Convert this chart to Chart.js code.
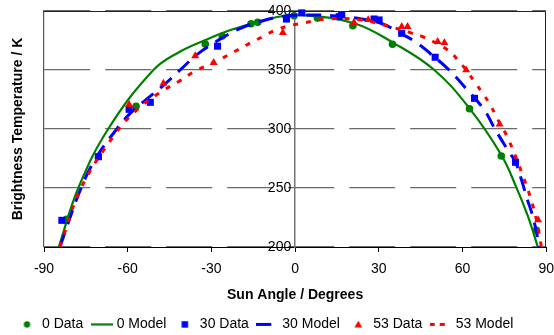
<!DOCTYPE html>
<html>
<head>
<meta charset="utf-8">
<script src="https://cdn.jsdelivr.net/npm/chart.js@4.4.0/dist/chart.umd.min.js"></script>
<style>
html,body{margin:0;padding:0;background:#fff;}
#wrap{width:554px;height:335px;}
</style>
</head>
<body>
<div id="wrap"><canvas id="c" width="554" height="335"></canvas></div>
<script>
// ---- data ----
const xTickValues = [-90, -60, -30, 0, 30, 60, 90];
const yTickValues = [200, 250, 300, 350, 400];

const angle0Data = [-81.9, -57.0, -32.2, -26.1, -15.8, -13.4, -0.4, 8.0, 20.7, 34.9, 62.5, 73.9, 86.5];
const temp0Data  = [223.5, 319.2, 372.0, 378.8, 389.2, 390.4, 396.0, 394.0, 387.5, 371.8, 317.2, 277.1, 214.2];

const angle0Model = [-84.7, -77.7, -67.0, -50.8, -41.5, -32.2, -22.0, -6.4, 2.0, 21.1, 35.5, 49.9, 62.5, 73.9, 79.3, 83.5, 87.0];
const temp0Model  = [200, 250, 300, 350, 365.3, 375.4, 384.7, 394.9, 396.6, 389.6, 372.6, 350, 317.5, 278, 250.5, 225.7, 200];

const angle30Data = [-83.6, -70.5, -59.5, -51.9, -27.8, -3.1, 2.4, 15.8, 16.7, 28.3, 30.1, 38.2, 50.2, 64.3, 79.0];
const temp30Data  = [222.6, 276.5, 316.7, 322.6, 370.2, 393.2, 398.4, 395.2, 396.9, 393.2, 392.4, 381.1, 360.8, 326.0, 271.8];

const angle30Model = [-84.3, -76.7, -71.1, -63.9, -59.2, -53.1, -47.2, -41.2, -35.2, -28.0, -19.6, -11.2, -6.4, 0, 9.2, 16.0, 22.4, 30.7, 37.9, 43.9, 48.3, 55.2, 61.3, 67.9, 71.5, 76.0, 79.0, 81.0, 83.0, 85.3, 87.6];
const temp30Model  = [200, 250, 276.5, 300, 313, 325.5, 337, 350, 363, 374.5, 385.3, 392, 394.7, 396.3, 396.6, 395.5, 393.8, 389.6, 381, 372.6, 364.2, 350, 334.2, 315.8, 300.5, 283, 271.8, 258, 242, 225, 200];

const angle53Data = [-59.5, -47.2, -35.8, -29.2, -4.4, 21.1, 26.2, 38.2, 40.3, 51.1, 53.5, 61.3, 73.3, 87.1];
const temp53Data  = [320.6, 338.7, 361.9, 356.2, 381.6, 390.4, 392.6, 386.7, 386.7, 374.0, 373.1, 350.0, 304.0, 222.9];

const angle53Model = [-84.3, -76.7, -65.2, -57.4, -49.0, -41.2, -36.6, -27.4, -20.2, -16.0, -11.8, -5.8, 3.2, 12.8, 23.6, 31.9, 41.5, 45.7, 54.7, 58.3, 61.3, 64.3, 67.3, 70.0, 72.1, 76.3, 81.7, 84.6, 86.6, 88.3];
const temp53Model  = [200, 250, 293.5, 314.7, 330, 341, 348, 358.5, 367.5, 373, 378, 385, 390, 393.5, 392.4, 388.1, 381.5, 378.2, 367, 358.5, 350, 340.1, 330, 320.3, 310.4, 292, 260, 240, 222, 200];

const seriesLabels = ['0 Data', '0 Model', '30 Data', '30 Model', '53 Data', '53 Model'];

// ---- styling ----
const F = "'Liberation Sans', Arial, sans-serif";
const GREEN = '#008000', BLUE = '#0000ff', RED = '#ff0000';

function pts(xs, ys) { return xs.map((x, i) => ({x: x, y: ys[i]})); }

function legendMarker(kind, color, width, dash) {
  const c = document.createElement('canvas');
  const g = c.getContext('2d');
  if (kind === 'line') {
    c.width = 22; c.height = 5;
    g.strokeStyle = color; g.lineWidth = width; g.setLineDash(dash);
    g.beginPath(); g.moveTo(0, 2.5); g.lineTo(22, 2.5); g.stroke();
  } else {
    c.width = 9; c.height = 9;
    g.fillStyle = color;
    g.beginPath();
    if (kind === 'circle') g.arc(4.5, 4.5, 3.2, 0, Math.PI * 2);
    else if (kind === 'rect') g.rect(1.25, 1.25, 6.5, 6.5);
    else { g.moveTo(4.5, 0.8); g.lineTo(8.4, 7.6); g.lineTo(0.6, 7.6); g.closePath(); }
    g.fill();
  }
  return c;
}
const legendMarkers = [
  legendMarker('circle', GREEN),
  legendMarker('line', GREEN, 2.2, []),
  legendMarker('rect', BLUE),
  legendMarker('line', BLUE, 3, [15, 30]),
  legendMarker('triangle', RED),
  legendMarker('line', RED, 3, [5, 5, 5, 30])
];

const framePlugin = {
  id: 'frame',
  beforeDatasetsDraw(chart) {
    const {ctx, chartArea: a} = chart;
    ctx.save();
    ctx.strokeStyle = '#222';
    ctx.lineWidth = 1;
    const t = Math.round(a.top) + 0.5, r = Math.round(a.right) - 0.5;
    ctx.beginPath();
    ctx.moveTo(a.left, t); ctx.lineTo(r, t); ctx.lineTo(r, a.bottom);
    ctx.stroke();
    ctx.restore();
  }
};

const n = seriesLabels.length;
const datasets = [
  {label: seriesLabels[0], data: pts(angle0Data, temp0Data), showLine: false, pointStyle: 'circle', pointRadius: 3.8,
   backgroundColor: GREEN, borderColor: GREEN, pointBorderWidth: 0, clip: false, order: n - 0},
  {label: seriesLabels[1], data: pts(angle0Model, temp0Model), showLine: true, pointRadius: 0, borderColor: GREEN,
   backgroundColor: GREEN, borderWidth: 2.2, tension: 0.4, order: n - 1},
  {label: seriesLabels[2], data: pts(angle30Data, temp30Data), showLine: false, pointStyle: 'rect', pointRadius: 5,
   backgroundColor: BLUE, borderColor: BLUE, pointBorderWidth: 0, clip: false, order: n - 2},
  {label: seriesLabels[3], data: pts(angle30Model, temp30Model), showLine: true, pointRadius: 0, borderColor: BLUE,
   backgroundColor: BLUE, borderWidth: 3, borderDash: [15, 9], tension: 0.4, order: n - 3},
  {label: seriesLabels[4], data: pts(angle53Data, temp53Data), showLine: false, pointStyle: 'triangle', pointRadius: 4.6,
   backgroundColor: RED, borderColor: RED, pointBorderWidth: 0, clip: false, order: n - 4},
  {label: seriesLabels[5], data: pts(angle53Model, temp53Model), showLine: true, pointRadius: 0, borderColor: RED,
   backgroundColor: RED, borderWidth: 3, borderDash: [5, 8], tension: 0.4, order: n - 5}
];

new Chart(document.getElementById('c'), {
  type: 'line',
  data: {datasets: datasets},
  plugins: [framePlugin],
  options: {
    responsive: false,
    animation: false,
    devicePixelRatio: 1,
    layout: {padding: {left: 8.6, right: 1.2, top: 0, bottom: 0}},
    plugins: {
      tooltip: {enabled: false},
      legend: {
        position: 'bottom',
        align: 'start',
        maxHeight: 28,
        labels: {
          usePointStyle: true,
          pointStyleWidth: 16,
          boxHeight: 14,
          padding: 10.4,
          color: '#000',
          font: {family: F, size: 14},
          generateLabels: (chart) => chart.data.datasets.map((ds, i) => ({
            text: ds.label,
            pointStyle: legendMarkers[i],
            fillStyle: 'rgba(0,0,0,0)',
            strokeStyle: 'rgba(0,0,0,0)',
            lineWidth: 0,
            hidden: false,
            datasetIndex: i,
            fontColor: '#000'
          }))
        }
      }
    },
    scales: {
      x: {
        type: 'linear', position: 'bottom', min: -90, max: 90,
        afterBuildTicks: (s) => { s.ticks = xTickValues.map(v => ({value: v})); },
        ticks: {color: '#000', font: {family: F, size: 14, lineHeight: 2.5}, padding: 0, maxRotation: 0},
        grid: {drawOnChartArea: false, drawTicks: true, tickLength: 5, tickColor: '#000', color: '#000'},
        border: {display: true, color: '#000', width: 1},
        title: {display: true, text: 'Sun Angle / Degrees', color: '#000',
                font: {family: F, size: 14, weight: 'bold'}, padding: {top: 0, bottom: 3.2}}
      },
      y: {
        type: 'linear', position: 'left', min: 200, max: 400,
        afterBuildTicks: (s) => { s.ticks = yTickValues.map(v => ({value: v})); },
        ticks: {display: false},
        grid: {color: '#6a6a6a', lineWidth: 1.2, drawTicks: false},
        border: {display: true, color: '#555', width: 1.2, dash: [46, 15]},
        title: {display: true, text: 'Brightness Temperature / K', color: '#000',
                font: {family: F, size: 14, weight: 'bold'}, padding: {top: 1.4, bottom: 17.2}}
      },
      y2: {
        axis: 'y', type: 'linear', position: {x: 0}, min: 200, max: 400,
        afterBuildTicks: (s) => { s.ticks = yTickValues.map(v => ({value: v})); },
        ticks: {color: '#000', font: {family: F, size: 14, lineHeight: 1}, padding: 4,
                callback: (v) => v + ' '},
        grid: {display: false, drawTicks: false},
        border: {display: true, color: '#777', width: 1.5}
      }
    }
  }
});
</script>
</body>
</html>
